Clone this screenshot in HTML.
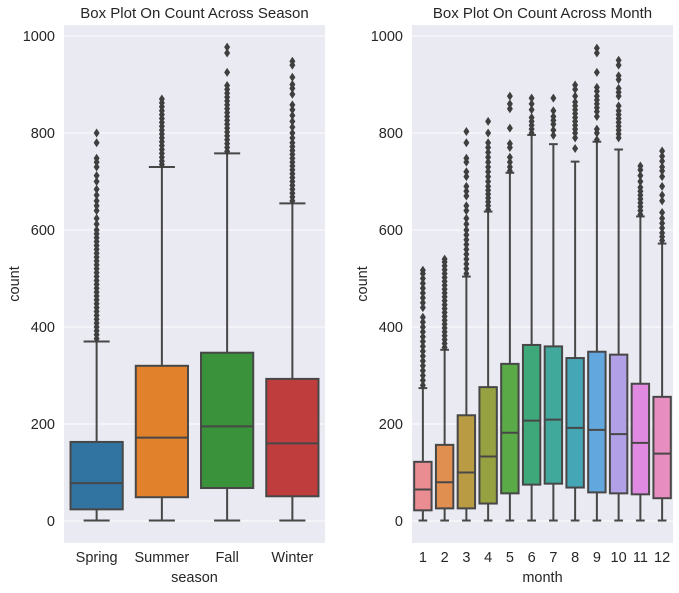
<!DOCTYPE html>
<html><head><meta charset="utf-8">
<style>
html,body{margin:0;padding:0;background:#fff;}
svg{display:block;font-family:"Liberation Sans",Arial,sans-serif;}
</style></head>
<body>
<svg id="chart" width="679" height="593" viewBox="0 0 679 593"></svg>
<script>
// ---- Data: season panel ----
const seasonCats = ["Spring","Summer","Fall","Winter"];
const seasonQ1 = [24, 49, 68, 51];
const seasonMed = [78, 172, 195, 160];
const seasonQ3 = [163, 320, 347, 293];
const seasonWLo = [1, 1, 1, 1];
const seasonWHi = [370, 730, 758, 655];
const seasonOut = [
  [376,384,392,400,408,416,424,432,440,448,456,464,472,480,488,496,504,512,520,528,536,544,552,560,568,576,584,592,600,612,624,640,650,660,672,684,700,712,730,740,748,780,800],
  [735,742,750,758,766,774,782,790,798,806,814,822,830,838,846,854,862,870],
  [762,770,778,786,794,802,810,818,826,834,842,850,858,866,874,882,890,898,925,965,977],
  [660,668,676,684,692,700,708,716,724,732,740,748,756,764,772,780,790,800,812,824,836,848,858,880,892,900,915,940,948]
];
const seasonColors = ["#3274a1","#e1812c","#3a923a","#c03d3e"];

// ---- Data: month panel ----
const monthCats = ["1","2","3","4","5","6","7","8","9","10","11","12"];
const monthQ1 = [22, 26, 26, 36, 57, 75, 77, 69, 59, 57, 55, 47];
const monthMed = [65, 80, 100, 133, 182, 207, 209, 192, 188, 179, 161, 139];
const monthQ3 = [122, 157, 218, 276, 324, 363, 360, 336, 349, 343, 283, 256];
const monthWLo = [1, 1, 1, 1, 1, 1, 1, 1, 1, 1, 1, 1];
const monthWHi = [274, 353, 504, 638, 718, 796, 777, 741, 782, 766, 628, 572];
const monthOut = [
  [280,290,300,310,320,330,340,350,360,370,380,390,400,410,420,440,450,460,470,480,490,500,510,517],
  [358,366,374,382,390,398,406,414,422,430,438,446,454,462,470,478,486,494,502,510,518,526,534,540],
  [510,520,530,540,550,560,570,580,590,600,612,624,640,650,670,680,690,710,720,740,748,780,803],
  [642,650,658,666,674,682,690,700,710,720,730,740,750,760,770,780,800,824],
  [722,730,740,750,770,778,810,850,860,876],
  [800,808,816,824,832,848,860,872],
  [795,806,818,826,834,846,872],
  [768,790,800,808,816,824,832,840,848,856,864,876,890,899],
  [786,800,808,834,844,852,860,868,876,886,894,925,965,975],
  [790,798,806,814,822,830,838,846,856,876,884,892,910,918,940,950],
  [632,640,648,656,664,672,680,688,700,712,724,732],
  [578,586,594,604,614,624,636,660,672,690,710,722,730,742,752,763]
];
const monthColors = ["#e98d93","#e08f50","#b99b44","#96a142","#5aab48","#3fa87b","#40a99b","#45a7b5","#63a7df","#b2a0e6","#e08ae2","#e88dc0"];

const yTicks = [0,200,400,600,800,1000];

const NS = "http://www.w3.org/2000/svg";
const svg = document.getElementById("chart");
function mk(tag, attrs, parent){
  const e = document.createElementNS(NS, tag);
  for (const k in attrs) e.setAttribute(k, attrs[k]);
  (parent||svg).appendChild(e);
  return e;
}
function yScale(v){ return 521 - v*0.485; }

function panel(opts){
  const {left,right,top,bottom,cats,q1,med,q3,wlo,whi,outs,colors,title,xlabel,key,catFont} = opts;
  const g = mk("g", {});
  
  
  const bg = mk("rect", {x:left,y:top,width:right-left,height:bottom-top,fill:"#eaeaf2"}, g);
  
  
  yTicks.forEach(t=>{
    const y = yScale(t);
    const gl = mk("line",{x1:left,x2:right,y1:y,y2:y,stroke:"#fff","stroke-width":1}, g);
    
    
    const tl = mk("text",{x:left-9,y:y+5,"text-anchor":"end","font-size":"14.5",fill:"#262626"}, g);
    tl.textContent = t;
    
    
  });
  const band = (right-left)/cats.length;
  const bw = band*0.8;
  cats.forEach((c,i)=>{
    const cx = left + band*(i+0.5);
    const bg2 = mk("g",{}, g);
    
    
    const lc = "#474747";
    mk("line",{x1:cx,x2:cx,y1:yScale(q3[i]),y2:yScale(whi[i]),stroke:lc,"stroke-width":2}, bg2);
    mk("line",{x1:cx,x2:cx,y1:yScale(q1[i]),y2:yScale(wlo[i]),stroke:lc,"stroke-width":2}, bg2);
    mk("line",{x1:cx-bw/4,x2:cx+bw/4,y1:yScale(whi[i]),y2:yScale(whi[i]),stroke:lc,"stroke-width":2}, bg2);
    mk("line",{x1:cx-bw/4,x2:cx+bw/4,y1:yScale(wlo[i]),y2:yScale(wlo[i]),stroke:lc,"stroke-width":2}, bg2);
    mk("rect",{x:cx-bw/2,y:yScale(q3[i]),width:bw,height:yScale(q1[i])-yScale(q3[i]),fill:colors[i],stroke:lc,"stroke-width":2}, bg2);
    mk("line",{x1:cx-bw/2,x2:cx+bw/2,y1:yScale(med[i]),y2:yScale(med[i]),stroke:lc,"stroke-width":2}, bg2);
    outs[i].forEach(v=>{
      const y = yScale(v);
      const p = mk("polygon",{points:`${cx},${y-4.5} ${cx+3},${y} ${cx},${y+4.5} ${cx-3},${y}`,fill:"#3f3f3f"}, bg2);
      
      
    });
    const xl = mk("text",{x:cx,y:bottom+19,"text-anchor":"middle","font-size":catFont,fill:"#262626"}, g);
    xl.textContent = c;
    
    
  });
  const tt = mk("text",{x:(left+right)/2,y:top-7,"text-anchor":"middle","font-size":"15",fill:"#262626"}, g);
  tt.textContent = title;
  
  
  const xt = mk("text",{x:(left+right)/2,y:bottom+39,"text-anchor":"middle","font-size":"14.5",fill:"#262626"}, g);
  xt.textContent = xlabel;
  
  
  const yx = left - 45, yy = (top+bottom)/2;
  const yt = mk("text",{x:yx,y:yy,"text-anchor":"middle","font-size":"14.5",fill:"#262626",transform:`rotate(-90 ${yx} ${yy})`}, g);
  yt.textContent = "count";
  
  
}

panel({left:64,right:325,top:25,bottom:543,cats:seasonCats,q1:seasonQ1,med:seasonMed,q3:seasonQ3,wlo:seasonWLo,whi:seasonWHi,outs:seasonOut,colors:seasonColors,title:"Box Plot On Count Across Season",xlabel:"season",key:"season",catFont:"14.5"});
panel({left:412,right:673,top:25,bottom:543,cats:monthCats,q1:monthQ1,med:monthMed,q3:monthQ3,wlo:monthWLo,whi:monthWHi,outs:monthOut,colors:monthColors,title:"Box Plot On Count Across Month",xlabel:"month",key:"month",catFont:"14.5"});
</script>
</body></html>
